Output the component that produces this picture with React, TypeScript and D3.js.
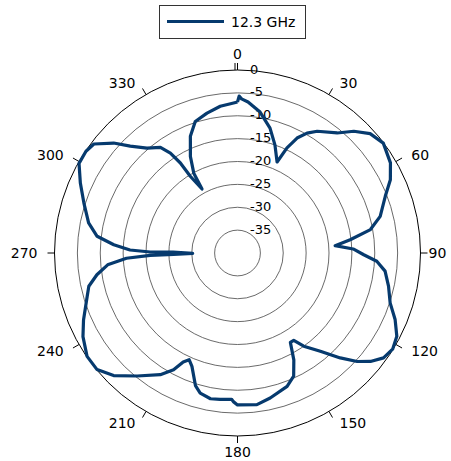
import React from 'react';
import * as d3 from 'd3';

// pattern, path order (deg, dB)
const angleDeg = [
  0, 0.6, 1.5, 4, 9.1, 14.6, 19.1, 23.5, 25.2, 27.4, 30.1, 33.2, 39.7, 43.7, 48, 53,
  59.5, 64.4, 69, 75.6, 80, 83.3, 85.7, 88, 90.8, 93.4, 97, 102.4, 108.1, 112.9, 117.6,
  121.8, 125.7, 129.2, 132.2, 135.6, 139.9, 144.6, 147.2, 149.4, 152.2, 155.5, 159.6,
  167.3, 172.7, 180, 181.6, 182.3, 186.8, 190.5, 194.9, 197.6, 201.9, 204.4, 206.5,
  208.7, 212.4, 219.2, 225.3, 230.3, 235.5, 241.6, 246.5, 253.9, 257.4, 261.2, 264.8,
  267.3, 268.4, 268.7, 269.6, 270.9, 270.65, 271.6, 273.8, 276.8, 281.4, 288, 294,
  299.5, 303.9, 307.2, 311.6, 314.9, 319.2, 323.9, 326.1, 327.6, 328.4, 331, 331.3,
  334, 338, 342.2, 347.7, 353.3, 358.5, 360,
];
const gainDb = [
  -7.0, -5.7, -6.3, -6.9, -8.8, -11.8, -15, -18.3, -14.6, -11.7, -9.7, -8.2, -5.9, -3.2, -1.0, -0.1,
  -1.2, -2.95, -5.4, -7.8, -10.5, -15.2, -18.6, -14.7, -12.4, -9.5, -7.5, -6.2, -4.9, -2.6, -0.7,
  -0.1, -0.7, -2.5, -4.7, -7.9, -11.9, -15, -17.3, -17.3, -13.6, -10.4, -8.9,
  -7.5, -6.6, -6.8, -7.5, -8.0, -7.8, -7.6, -8.3, -9.6, -13.3, -14.4, -13.4,
  -10.9, -8.5, -5.3, -1.9, -0.1, -0.1, -1.6, -3.3, -5.8, -6.7, -8.9, -11.5,
  -15.7, -20.9, -26, -30.2, -25.9, -20.9, -16.5, -12.9, -9.1, -6.8, -4.7, -2.4,
  -0.2, -0.1, -0.6, -3.8, -6.9, -9.7, -11.4, -13.7, -16.7, -20.3, -24, -20.1,
  -16.5, -12.5, -9.8, -8.7, -7.7, -7.2, -7.0,
];

const angleTicks = [0, 30, 60, 90, 120, 150, 180, 210, 240, 270, 300, 330];
const ringTicks = [0, -5, -10, -15, -20, -25, -30, -35];
const seriesName = '12.3 GHz';

const W = 451;
const H = 461;
const cx = 237.5;
const cy = 253;
const R = 183;
const font = 'DejaVu Sans, sans-serif';

export default function App() {
  const r = d3.scaleLinear().domain([-40, 0]).range([0, R]);
  const a = d3.scaleLinear().domain([0, 360]).range([0, 2 * Math.PI]);
  const pts: [number, number][] = angleDeg.map((d, i) => [d, gainDb[i]]);
  const line = d3
    .lineRadial<[number, number]>()
    .angle((d) => a(d[0]))
    .radius((d) => r(Math.min(d[1], 0)));

  const polar = (deg: number, rad: number) => {
    const t = a(deg);
    return [cx + rad * Math.sin(t), cy - rad * Math.cos(t)];
  };

  // label placement: top/bottom/right-middle centred, others hang off the tick end
  const labelPos = (t: number) => {
    if (t === 0 || t === 180) {
      const [x, y] = polar(t, 199);
      return { x, y, anchor: 'middle' };
    }
    if (t === 90) {
      const [x, y] = polar(t, 200);
      return { x, y, anchor: 'middle' };
    }
    const [px, py] = polar(t, 196);
    return t < 180 ? { x: px + 4, y: py, anchor: 'start' } : { x: px - 4, y: py, anchor: 'end' };
  };

  return (
    <svg
      width={W}
      height={H}
      style={{ position: 'absolute', left: 0, top: 0, background: '#fff' }}
      fontFamily={font}
    >
      {ringTicks.map((v) => (
        <circle
          key={v}
          cx={cx}
          cy={cy}
          r={r(v)}
          fill="none"
          stroke={v === 0 ? '#000' : '#444'}
          strokeWidth={v === 0 ? 1 : 0.8}
        />
      ))}
      {angleTicks.map((t) => {
        const [x1, y1] = polar(t, R);
        const [x2, y2] = polar(t, R + 7);
        return (
          <g key={t}>
            <line x1={x1} y1={y1} x2={x2} y2={y2} stroke="#000" strokeWidth={1} />
            {t === 0 && (
              <line x1={x1 - 2.5} y1={y1} x2={x2 - 2.5} y2={y2} stroke="#000" strokeWidth={1} />
            )}
          </g>
        );
      })}
      {angleTicks.map((t) => {
        const p = labelPos(t);
        return (
          <text key={t} x={p.x} y={p.y} fontSize={14} textAnchor={p.anchor} dominantBaseline="central" fill="#000">
            {t}
          </text>
        );
      })}
      {ringTicks.map((v) => (
        <text key={v} x={cx + 12.5} y={cy - r(v) - 1} fontSize={13} dominantBaseline="central" fill="#000">
          {v}
        </text>
      ))}
      <path d={line(pts) ?? ''} transform={`translate(${cx},${cy})`} fill="none" stroke="#063a6e" strokeWidth={3.2} strokeLinejoin="round" />
      <g>
        <rect x={159.5} y={5.5} width={146} height={33} fill="#fff" stroke="#333" strokeWidth={1} />
        <line x1={167} y1={21.5} x2={224} y2={21.5} stroke="#063a6e" strokeWidth={3} />
        <text x={231} y={22} fontSize={14} dominantBaseline="central" fill="#000">
          {seriesName}
        </text>
      </g>
    </svg>
  );
}
